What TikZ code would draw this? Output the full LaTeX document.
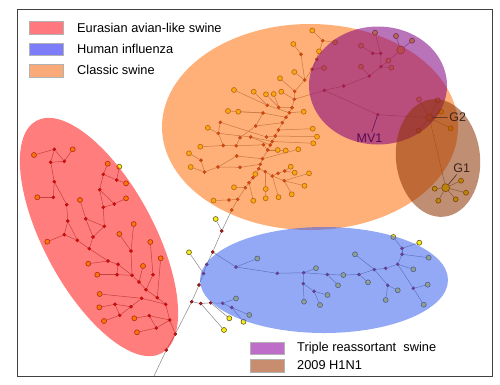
\documentclass[tikz,border=0pt]{standalone}
\usepackage{fontspec}
\setmainfont{Liberation Sans}
\definecolor{dotred}{RGB}{175,25,25}
\definecolor{dotrim}{RGB}{105,10,10}
\definecolor{leafy}{RGB}{245,235,30}
\definecolor{leafrim}{RGB}{105,90,20}
\definecolor{edgec}{RGB}{135,135,135}
\definecolor{vred}{RGB}{255,0,0}
\definecolor{vorange}{RGB}{255,110,10}
\definecolor{vblue}{RGB}{60,100,240}
\definecolor{vpurple}{RGB}{128,0,128}
\definecolor{vbrown}{RGB}{140,50,0}
\definecolor{legred}{RGB}{255,120,125}
\definecolor{legblue}{RGB}{125,125,250}
\definecolor{legorange}{RGB}{250,170,120}
\definecolor{legpurple}{RGB}{190,110,200}
\definecolor{legbrown}{RGB}{200,140,110}
\definecolor{mvcol}{RGB}{85,10,85}
\definecolor{gcol}{RGB}{65,35,25}
\pgfdeclarelayer{edges}
\pgfdeclarelayer{veil}
\pgfdeclarelayer{top}
\pgfsetlayers{edges,main,veil,top}
\begin{document}
\begin{tikzpicture}[x=1pt,y=-1pt,
  dot/.style={circle,inner sep=0pt,minimum size=3.2pt,fill=dotred,draw=dotrim,line width=0.3pt},
  leaf/.style={circle,inner sep=0pt,minimum size=5pt,fill=leafy,draw=leafrim,line width=0.6pt},
  bigleaf/.style={leaf,minimum size=8pt},
  edge/.style={draw=edgec,line width=0.5pt},
  tick/.style={draw=black!75,line width=0.5pt},
  legbox/.style={draw=black!30,line width=0.4pt,minimum width=34pt,minimum height=12.5pt,inner sep=0pt},
  legtext/.style={anchor=base west,inner sep=0pt,font=\fontsize{12.8}{15}\selectfont},
  lab/.style={anchor=base west,inner sep=1.5pt,font=\fontsize{12.5}{15}\selectfont},
  frame/.style={draw=black!75,line width=1pt}]
\begin{pgfonlayer}{edges}
\fill[white] (0,0) rectangle (500,384);
\end{pgfonlayer}
\useasboundingbox (0,0) rectangle (500,384);

% internal nodes
\foreach \nm/\x/\y in {r1/54.3/149.3,r2/50.7/162.3,r3/64.3/161.3,r4/54.3/181.7,r5/53.3/197.3,r6/66.7/204.7,r7/67.7/221,r8/64.3/234.7,r9/77.3/240.3,r10/89.3/248.7,r11/93/237,r12/104.3/226.3,r13/85.7/218.7,r14/103.3/207.3,r15/99.7/189.7,r16/114.3/204,r17/103.3/174.3,r18/116.7/180,r19/108/261,r20/118/264.3,r21/117/274.7,r22/132/275.3,r23/131/251,r24/139/282,r25/146/289.7,r26/153/274.7,r27/157.3/297.7,r28/165.7/304.3,r29/141.7/298.3,r30/131/306.7,r31/115/304.3,r32/119.7/315.3,r33/169.7/320,r34/149.3/315.7,r35/156.3/328,r36/175.3/334,r37/166.3/350,
 b1/191.7/301.7,b2/199/285,b3/203.5/273.5,b4/206.7/264.5,b5/212.7/252,b6/221.7/231,b7/231.7/210,b8/200.7/303.5,b9/210.7/302.8,
 h1/236/267,h2/277.3/273.3,h3/303.7/272.7,h4/303.3/283.7,h5/314/291.3,h6/327.3/274.5,h9/359/274.5,h10/374.3/269.5,h11/385.7/268.3,h12/387.7/285.3,h13/397.7/264.3,h14/402/254.3,h15/402/248.3,h16/413.3/288.3,h7/222.7/303.3,h8/231.7/307.5,
 s1/237.7/199.3,s2/245.3/187.7,s3/249/182.7,s4/253/177.7,s5/258.7/168.7,s6/260.3/164.3,s7/262.5/158.8,s8/267.7/150,s9/272.3/141.5,s10/275.3/136,s11/278.5/130,s12/282.3/122.7,s13/286/117.3,s14/289.3/112.7,s15/292/107.7,s16/294.3/99.3,s17/294.7/91.3,s18/304.7/80,s19/312/69.3,s20/316.7/59.3,s21/322.7/40.7,t1/301/54.3,
 u1/229/200,v1/265.3/171.7,v2/272.3/176,v3/278/173.3,v4/284.7/171,v5/284.3/180.7,
 w1/240/167.3,w2/218/167,w3/204.5/172,w4/201/160.2,w5/236.7/156,
 k1/220.3/122.3,k2/218.3/133.3,k3/223.2/145.5,k4/236.2/145.8,k5/240/137.7,k6/250.8/137,k7/255.7/126,k8/263.5/144.8,k9/266.5/137,k10/270.3/145,
 m1/267.3/105.3,m2/263/113,m3/278.7/107.3,
 p1/324.3/90.3,p2/343.7/86,p3/369.3/76,p4/381/66.7,p5/380.7/53.3,p6/372.7/53.3,mv/377.7/114.7}
  \node[dot] (\nm) at (\x,\y) {};

% leaves
\foreach \nm/\x/\y in {ra/34/155,rb/72.7/149.3,rc/37.3/197.3,rdd/47.3/241.7,re/80/200,rf/126/198.3,rg/107.7/163.7,rh/126/183.3,ry/119.3/166.7,ri/88.3/263.7,rj/97.3/274.7,rk/133.7/224,rl/119.3/234,rm/150.3/242,rn/143/266,ro/160.7/258.3,rp/99.7/294,rq/99.3/307.3,rr/104/321,rs/134.3/318.3,rt/137/332.3,
 wy1/229.3/318.3,wy2/224/330,wy3/189/252.3,wy4/215.7/219,
 ha/257.3/258.5,hb/316/268.2,hc/304/301.7,hd/320/305,he/327.5/295,hf/343.3/275,hg/338/285.3,hh/368/282.3,hi/355/254.3,hj/397.7/290.3,hk/385.7/300,hl/413.3/269.3,hm/393.3/237,hn/419.3/242.7,ho/428.7/257.7,hp/427.7/284.7,hq/423.7/304.7,hr/236/298.5,hs/249.3/315,ht/243.5/321.8,
 oa/293.3/44,ob/312.3/30.5,oc/335/42.3,od/319/51.3,oe/324/68,of/294.3/72,og/280/78.3,
 oh/213.5/200.5,oi/234/187.3,oj/253.3/200.7,ok/255.3/174,ol/290.7/166.7,om/294.7/172.7,on/309/173.3,oo/304.5/185.8,op/291.7/194.3,oq/278.5/197.2,ors/265.7/189,os/265.7/198.3,
 ot/190.7/167,ou/189/153.3,ov/207.8/127.8,ow/200.3/146.7,ox/228/111,oy/238.3/111.7,oz/234/90,pa/253.7/91.7,pb/266/94.3,pc/273.7/94,pd/281.3/91.7,pe/303.7/111.7,pf/312.7/128.7,pg/317/136.7,ph/313.3/143.3,pi/277.7/150,pj/285.7/150.5,pk/298.3/149.3,
 qa/361/45.7,qb/375/32.7,qc/388.3/60.7,qd/396/36,qe/412/40.7,qf/391.3/67.7,qg/361/66.7,qh/419/99.3,qi/437.7/100.3,qj/441/111.7,qk/450.7/128.3,ql/418.7/130.7,
 ga/461/180.7,gb/466/192.7,gc/455.7/199.3,gd/438.3/200.7,ge/434.7/188.7}
  \node[leaf] (\nm) at (\x,\y) {};
\node[bigleaf] (big1) at (400.7,50) {};
\node[bigleaf,minimum size=7pt] (g2n) at (429.3,117.7) {};
\node[bigleaf] (g1n) at (445.7,187.7) {};
\coordinate (bot) at (154,376);

\begin{pgfonlayer}{edges}
\foreach \a/\b in {ra/r1,r1/r2,r1/r3,r2/r3,r3/rb,r2/r4,rc/r5,r5/r4,r4/r6,r6/r7,r7/r8,r7/r9,r8/r9,rdd/r8,r9/r10,r10/r11,r11/r13,r11/r12,r12/r13,r13/re,r12/r14,r14/r15,r14/r16,r15/r16,r16/rf,r15/r17,r17/rg,r17/r18,r18/rh,r18/ry,r10/r19,ri/r19,r19/r20,r20/r21,rj/r21,r21/r22,r20/r22,r22/r23,r23/rk,r23/rl,r22/r24,r24/rn,r24/r25,r25/r26,r26/rm,r25/r27,r27/ro,r27/r28,r29/r28,rp/r29,r29/r30,r30/r31,r31/rq,r30/r32,r31/r32,r32/rr,r28/r33,r33/r34,r34/rs,r34/r35,r35/rt,r33/r35,r33/r36,r36/r37,r37/bot,
 r36/b1,b1/b2,b2/b3,b3/b4,b4/b5,b5/b6,b6/b7,b7/s1,b3/wy3,b6/wy4,
 b1/b8,b8/b9,b9/h7,h7/hr,h7/h8,h8/hs,h8/ht,b9/wy1,b8/wy2,
 b5/h1,h1/ha,h1/h2,h2/h3,h3/hb,h3/h4,h4/hc,h4/h5,h5/hd,h5/he,h3/h6,h6/hf,hf/h9,h6/hg,h9/hh,h9/h10,h10/hi,h10/h11,h10/h12,h12/hk,h12/hj,h11/h13,h13/hl,h13/h14,h14/h15,h15/hm,h15/hn,h14/ho,h13/h16,h16/hp,h16/hq,
 s1/s2,s2/s3,s3/s4,s4/s5,s5/s6,s6/s7,s7/s8,s8/s9,s9/s10,s10/s11,s11/s12,s12/s13,s13/s14,s14/s15,s15/s16,s16/s17,s17/s18,s18/s19,s19/s20,s20/s21,s18/t1,t1/oa,s21/ob,s21/oc,s20/od,s19/oe,s18/of,s17/og,
 s1/u1,u1/oh,s2/oi,s3/oj,s4/ok,s5/v1,v1/v2,v2/v3,v3/v4,v4/ol,v4/om,v2/v5,v5/on,v5/oo,v5/op,v2/oq,v1/ors,v1/os,
 s6/w1,w1/w2,w2/w3,w3/ot,w3/w4,w4/ou,s7/w5,w5/w2,
 k2/ov,k1/k2,k2/k3,k3/ow,k3/k4,k4/k8,k8/s8,k1/k9,k9/s10,k2/k6,k6/s9,k5/k4,k5/k7,k7/s12,k10/s9,k10/k6,
 m1/oz,m1/pa,m1/s14,m2/ox,m2/oy,m2/k7,m2/s13,m3/pb,m3/pc,m3/s15,s16/pd,
 s14/pe,s11/pf,s10/pg,s9/ph,s8/pi,s8/pj,s7/pk,
 s16/p1,p1/p2,p2/p3,p3/p4,p4/p5,p5/p6,p6/qa,p5/qb,p4/qc,qc/big1,big1/qd,big1/qe,p4/qf,p3/qg,
 p1/mv,mv/g2n,g2n/qh,g2n/qi,g2n/qj,g2n/qk,g2n/ql,g2n/g1n,g1n/ga,g1n/gb,g1n/gc,g1n/gd,g1n/ge}
  \draw[edge] (\a) -- (\b);
\end{pgfonlayer}

% group ellipses (translucent veils over the tree)
\begin{pgfonlayer}{veil}
\begin{scope}[shift={(99,237)},rotate=-61.7]
  \fill[vred,fill opacity=0.51] (0,0) ellipse [x radius=132pt,y radius=55pt];
\end{scope}
\fill[vorange,fill opacity=0.55] (310,127) ellipse [x radius=148pt,y radius=103pt];
\fill[vblue,fill opacity=0.55] (324,280) ellipse [x radius=124pt,y radius=53pt];
\fill[vpurple,fill opacity=0.55] (378,85.5) ellipse [x radius=69pt,y radius=59pt];
\begin{scope}[shift={(438,158)},rotate=6]
  \fill[vbrown,fill opacity=0.55] (0,0) ellipse [x radius=42pt,y radius=59pt];
\end{scope}
\end{pgfonlayer}

\begin{pgfonlayer}{top}
\node[lab,text=mvcol] (mvl) at (355,142.7) {MV1};
\node[lab,text=gcol] (g2l) at (447.7,121.7) {G2};
\node[lab,text=gcol] (g1l) at (451.7,172.7) {G1};
\draw[tick,draw=mvcol] (mvl) -- (mv);
\draw[tick,draw=gcol] (g2l) -- (g2n);
\draw[tick,draw=gcol] (g1l) -- (g1n);

\node[legbox,fill=legred] (lb1) at (46,27.5) {};
\node[legbox,fill=legblue] (lb2) at (46,49) {};
\node[legbox,fill=legorange] (lb3) at (46,70.5) {};
\node[legtext] (lt1) at (77,32) {Eurasian avian-like swine};
\node[legtext] (lt2) at (77,53.3) {Human influenza};
\node[legtext] (lt3) at (77,74.7) {Classic swine};
\node[legbox,fill=legpurple] (lb4) at (267,348) {};
\node[legbox,fill=legbrown] (lb5) at (267,365.5) {};
\node[legtext] (lt4) at (297,351.7) {Triple reassortant\ \ swine};
\node[legtext] (lt5) at (297,369) {2009 H1N1};
\draw[frame] (17,9) rectangle (492,376);
\end{pgfonlayer}
\end{tikzpicture}
\end{document}
